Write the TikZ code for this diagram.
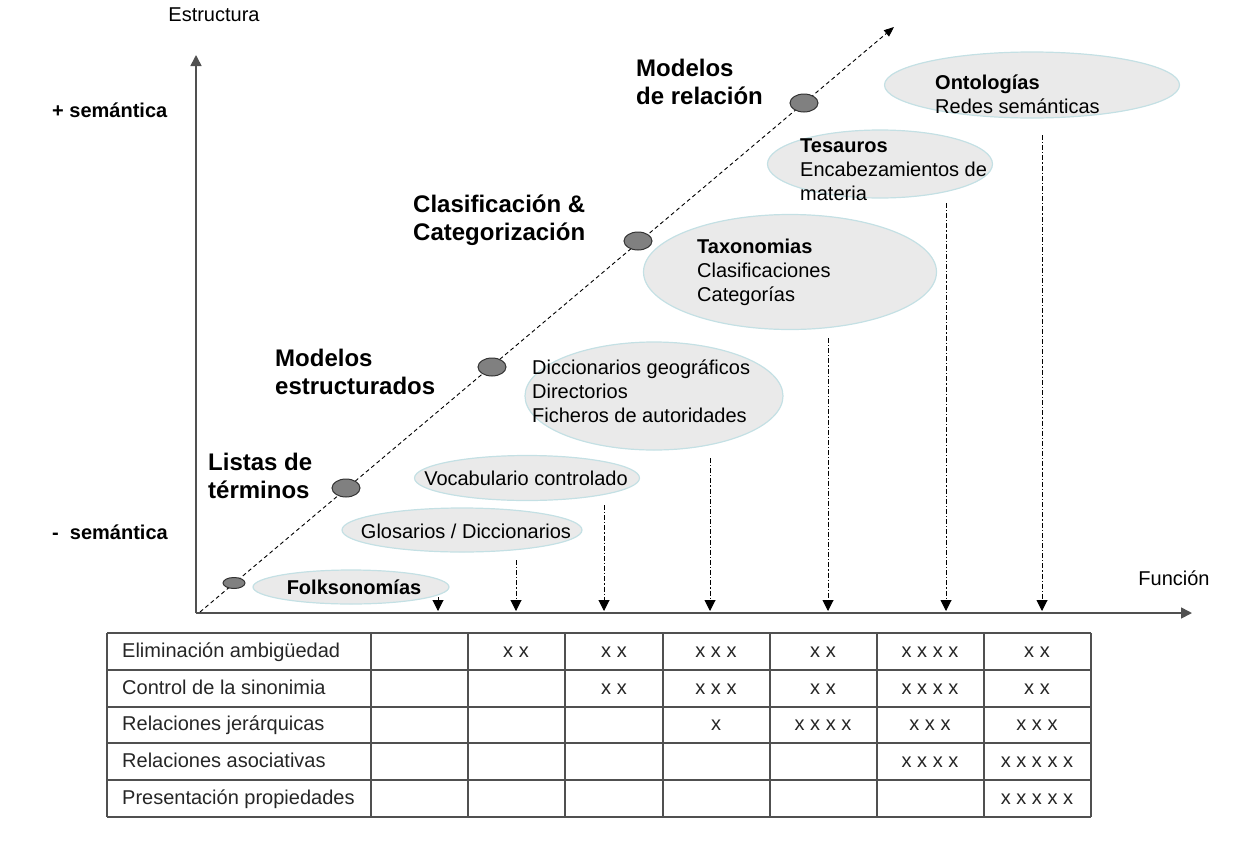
\documentclass[tikz,border=0pt]{standalone}
\usepackage{fontspec}
\setmainfont{Liberation Sans}
\usetikzlibrary{arrows.meta,shapes.geometric}
\definecolor{ellfill}{HTML}{EAEAEA}
\definecolor{ellline}{HTML}{C4E0E4}
\definecolor{dotfill}{HTML}{808080}
\definecolor{axisgray}{HTML}{505050}
\tikzset{
  ell/.style={ellipse, draw=ellline, line width=1.2pt, fill=ellfill, inner sep=0pt},
  dotnode/.style={ellipse, draw=black!80, line width=1pt, fill=dotfill, inner sep=0pt, minimum width=28pt, minimum height=18pt},
  txt/.style={inner sep=0pt, align=left, font=\fontsize{20}{24}\selectfont},
  big/.style={inner sep=0pt, align=left, anchor=west, font=\fontsize{24}{28}\selectfont\bfseries},
  down/.style={dash pattern=on 5pt off 2pt on 1.2pt off 2pt, line width=1pt, -{Triangle[width=11pt,length=11pt]}},
  axis/.style={draw=axisgray, line width=1.6pt, -{Triangle[width=11pt,length=11pt]}},
  grid/.style={draw=axisgray, line width=1.3pt},
  cell/.style={inner sep=0pt, text height=14pt, text depth=4pt, font=\fontsize{20}{24}\selectfont, text=black!85},
}
\begin{document}
\begin{tikzpicture}[x=1pt,y=-1pt]
\useasboundingbox (0,0) rectangle (1243,857);

% axes
\coordinate (O) at (196,613);
\coordinate (Ytop) at (196,55);
\coordinate (Xend) at (1192,613);
\draw[axis] (O) -- (Ytop);
\draw[axis] (O) -- (Xend);
\node[txt] (estr) at (214,15) {Estructura};
\node[txt] (func) at (1174,578) {Función};
\node[txt, anchor=west, font=\fontsize{20}{24}\selectfont\bfseries] (mas) at (52,110) {+ semántica};
\node[txt, anchor=west, font=\fontsize{20}{24}\selectfont\bfseries] (menos) at (52,532) {-\ \ semántica};

% diagonal
\coordinate (D0) at (200,612);
\coordinate (D1) at (894,27);
\draw[dash pattern=on 4pt off 3pt, line width=0.9pt, -{Triangle[width=8pt,length=10pt]}] (D0) -- (D1);

% dots
\node[dotnode, minimum width=22pt, minimum height=11pt] (p0) at (234,583) {};
\node[dotnode] (p1) at (346,488) {};
\node[dotnode] (p2) at (492,367) {};
\node[dotnode] (p3) at (638,241) {};
\node[dotnode] (p4) at (804,103) {};

% bold labels
\node[big] (l1) at (208,476) {Listas de\\términos};
\node[big] (l2) at (275,372) {Modelos\\estructurados};
\node[big] (l3) at (413,220) {Clasificación \&\\Categorización};
\node[big] (l4) at (636,82) {Modelos\\de relación};

% ellipses
\node[ell, minimum width=196pt, minimum height=34pt] (e1) at (351,587) {};
\node[ell, minimum width=240pt, minimum height=44pt] (e2) at (462,530) {};
\node[ell, minimum width=225pt, minimum height=45pt] (e3) at (527,478) {};
\node[ell, minimum width=258pt, minimum height=108pt] (e4) at (654,396) {};
\node[ell, minimum width=293pt, minimum height=115pt] (e5) at (790,272) {};
\node[ell, minimum width=225pt, minimum height=68pt] (e6) at (880,164) {};
\node[ell, minimum width=295pt, minimum height=66pt] (e7) at (1032,85) {};

\node[txt, font=\fontsize{20}{24}\selectfont\bfseries] (t1) at (354,587) {Folksonomías};
\node[txt] (t2) at (466,531) {Glosarios / Diccionarios};
\node[txt] (t3) at (526,478) {Vocabulario controlado};
\node[txt, anchor=west] (t4) at (532,391) {Diccionarios geográficos\\Directorios\\Ficheros de autoridades};
\node[txt, anchor=west] (t5) at (697,272) {\textbf{Taxonomias}\\Clasificaciones\\Categorías};
\node[txt, anchor=west] (t6) at (800,170) {\textbf{Tesauros}\\Encabezamientos de\\materia};
\node[txt, anchor=west] (t7) at (935,94) {\textbf{Ontologías}\\Redes semánticas};

% vertical dash-dot arrows
\foreach \i/\x/\y in {1/438/597, 2/516/560, 3/604/505, 4/710/458, 5/828/338, 6/946/203, 7/1042/135}{
  \coordinate (a\i) at (\x,\y);
  \coordinate (b\i) at (\x,611);
  \draw[down] (a\i) -- (b\i);
}

% table
\foreach \yy in {633,670,707,743,780,817}{
  \draw[grid] (107,\yy) -- (1091,\yy);
}
\foreach \xx in {107,371,468,565,663,770,877,984,1091}{
  \draw[grid] (\xx,633) -- (\xx,817);
}
\node[cell, anchor=west] (r1) at (122,652) {Eliminación ambigüedad};
\node[cell, anchor=west] (r2) at (122,689) {Control de la sinonimia};
\node[cell, anchor=west] (r3) at (122,725) {Relaciones jerárquicas};
\node[cell, anchor=west] (r4) at (122,762) {Relaciones asociativas};
\node[cell, anchor=west] (r5) at (122,799) {Presentación propiedades};

\foreach \x/\y/\s [count=\k] in {
  516/652/x x, 614/652/x x, 716/652/x x x, 823/652/x x, 930/652/x x x x, 1037/652/x x,
  614/689/x x, 716/689/x x x, 823/689/x x, 930/689/x x x x, 1037/689/x x,
  716/725/x, 823/725/x x x x, 930/725/x x x, 1037/725/x x x,
  930/762/x x x x, 1037/762/x x x x x,
  1037/799/x x x x x}{
  \node[cell] (c\k) at (\x,\y) {\s};
}
\end{tikzpicture}
\end{document}
